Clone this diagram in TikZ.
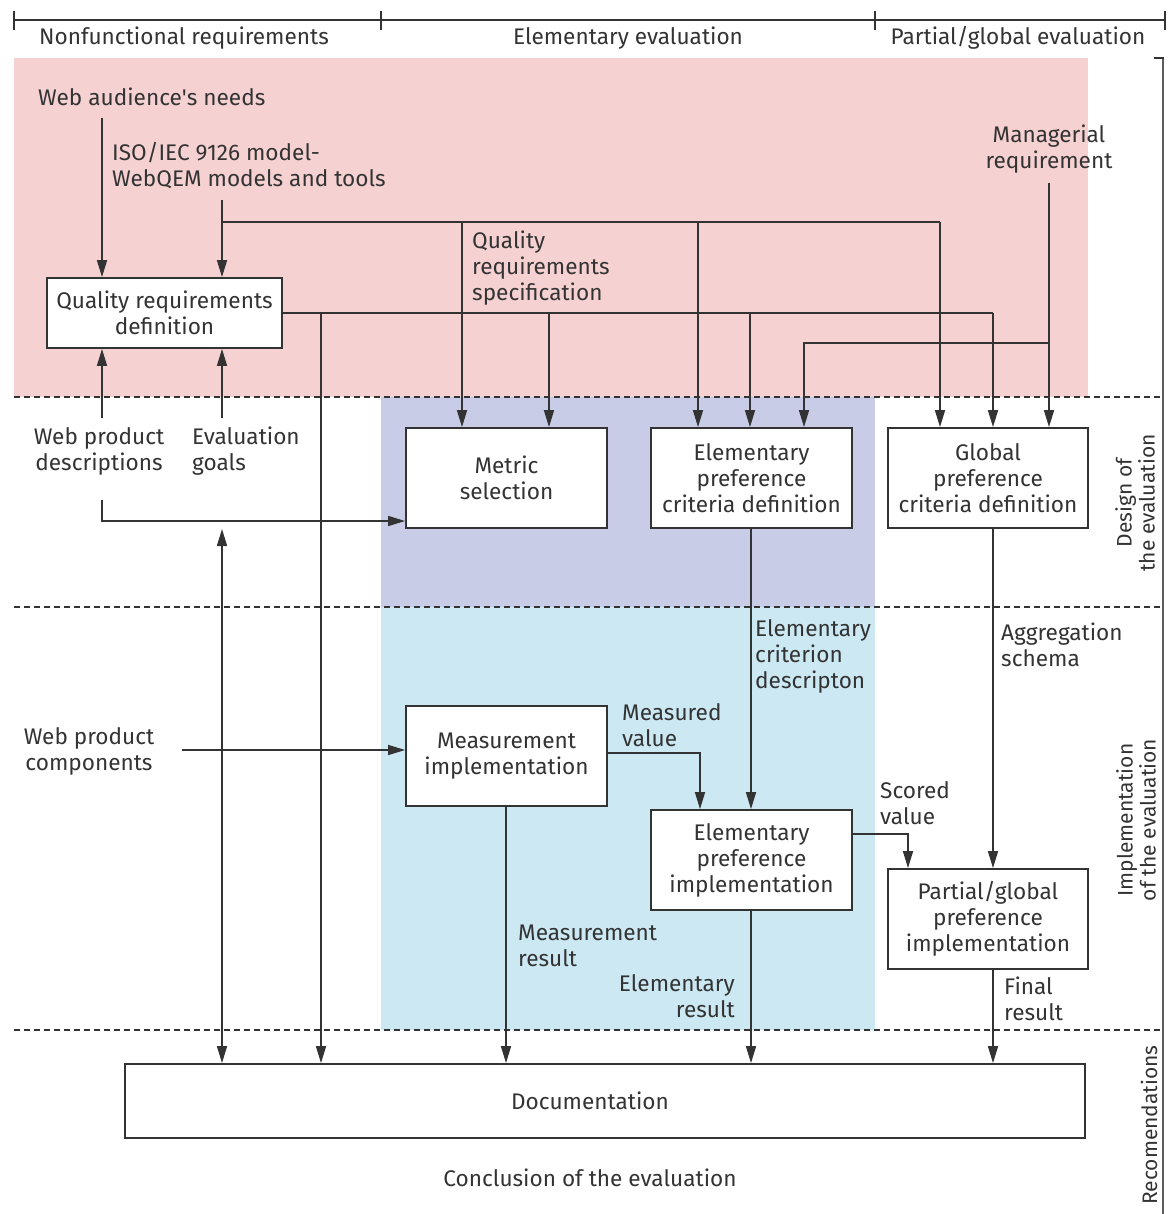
\documentclass[tikz,border=0pt]{standalone}
\usepackage{fontspec}
\setmainfont{Fira Sans}
\usetikzlibrary{arrows.meta}
\definecolor{pinkbg}{HTML}{F5D1D1}
\definecolor{lavbg}{HTML}{C8CCE6}
\definecolor{bluebg}{HTML}{CBE8F3}
\definecolor{ink}{HTML}{333333}
\tikzset{
  lbl/.style={inner sep=0pt, text=ink, font=\fontsize{22.6}{26}\selectfont},
  boxn/.style={draw=ink, line width=1.8pt, fill=white, inner sep=0pt, align=center, text=ink, font=\fontsize{22.6}{26}\selectfont},
  conn/.style={draw=ink, line width=1.6pt},
  arr/.style={conn, -{Triangle[length=17pt,width=10pt]}},
  darr/.style={conn, {Triangle[length=17pt,width=10pt]}-{Triangle[length=17pt,width=10pt]}},
  sep/.style={draw=ink, line width=1.2pt, dash pattern=on 6pt off 4pt},
  side/.style={inner sep=0pt, text=ink, rotate=90, align=center, font=\fontsize{21}{23}\selectfont},
}
\begin{document}
\begin{tikzpicture}[x=1pt,y=-1pt]
\useasboundingbox (0,0) rectangle (1169,1214);
% backgrounds
\fill[pinkbg] (14,58) rectangle (1088,397);
\fill[lavbg] (381,397) rectangle (875,607);
\fill[bluebg] (381,607) rectangle (875,1030);
% header
\draw[conn] (14,20) -- (1165,20);
\foreach \x in {14,381,875,1165} \draw[conn] (\x,11) -- (\x,30);
\node[lbl] (h1) at (184,38) {Nonfunctional requirements};
\node[lbl] (h2) at (628,38) {Elementary evaluation};
\node[lbl] (h3) at (1018,38) {Partial/global evaluation};
% right bar
\draw[draw=ink!80, line width=2.4pt] (1163,58) -- (1163,1214);
\draw[conn] (1154,58) -- (1164,58);
% separators
\draw[sep] (14,397) -- (1160,397);
\draw[sep] (14,607) -- (1160,607);
\draw[sep] (14,1030) -- (1160,1030);
% boxes
\node[boxn, minimum width=235pt, minimum height=70pt] (qrd) at (164.5,313) {Quality requirements\\definition};
\node[boxn, minimum width=201pt, minimum height=100pt] (ms) at (506.5,478) {Metric\\selection};
\node[boxn, minimum width=201pt, minimum height=100pt] (epcd) at (751.5,478) {Elementary\\preference\\criteria definition};
\node[boxn, minimum width=200pt, minimum height=100pt] (gpcd) at (988,478) {Global\\preference\\criteria definition};
\node[boxn, minimum width=201pt, minimum height=100pt] (mi) at (506.5,756) {Measurement\\implementation};
\node[boxn, minimum width=201pt, minimum height=100pt] (epi) at (751.5,860) {Elementary\\preference\\implementation};
\node[boxn, minimum width=200pt, minimum height=100pt] (pgpi) at (988,919) {Partial/global\\preference\\implementation};
\node[boxn, minimum width=960pt, minimum height=74pt] (doc) at (605,1101) {};
\node[lbl] (doct) at (590,1101) {Documentation};
% labels
\node[lbl, anchor=west] (wan) at (38,97) {Web audience\textquotesingle s needs};
\node[lbl, anchor=west, align=left] (iso) at (112,166) {ISO/IEC 9126 model-\\WebQEM models and tools};
\node[lbl, anchor=west, align=left] (qrs) at (472,268) {Quality\\requirements\\specification};
\node[lbl, align=center] (mgr) at (1049,149) {Managerial\\requirement};
\node[lbl, align=center] (wpd) at (99,451) {Web product\\descriptions};
\node[lbl, anchor=west, align=left] (eg) at (192,451) {Evaluation\\goals};
\node[lbl, align=center] (wpc) at (89,751) {Web product\\components};
\node[lbl, anchor=west, align=left] (mv) at (622,725) {Measured\\value};
\node[lbl, anchor=west, align=left] (ecd) at (755,656) {Elementary\\criterion\\descripton};
\node[lbl, anchor=west, align=left] (agg) at (1001,645) {Aggregation\\schema};
\node[lbl, anchor=west, align=left] (sv) at (880,803) {Scored\\value};
\node[lbl, anchor=west, align=left] (mr) at (518,946) {Measurement\\result};
\node[lbl, anchor=east, align=right] (er) at (735,996) {Elementary\\result};
\node[lbl, anchor=west, align=left] (fr) at (1004,999) {Final\\result};
\node[lbl] (concl) at (590,1178) {Conclusion of the evaluation};
\node[side] (s1) at (1135,503) {Design of\\the evaluation};
\node[side] (s2) at (1136,820) {Implementation\\of the evaluation};
\node[side] (s3) at (1149,1125) {Recomendations};
% connectors: top
\draw[arr] (102,118) -- (qrd.north -| 102,0);
\draw[arr] (222,200) -- (qrd.north -| 222,0);
\draw[conn] (222,222) -- (940,222);
\draw[arr] (940,222) -- (gpcd.north -| 940,0);
\draw[arr] (462,222) -- (ms.north -| 462,0);
\draw[arr] (698,222) -- (epcd.north -| 698,0);
\draw[conn] (qrd.east) -- (993,313);
\draw[arr] (993,313) -- (gpcd.north -| 993,0);
\draw[arr] (321,313) -- (doc.north -| 321,0);
\draw[arr] (549,313) -- (ms.north -| 549,0);
\draw[arr] (750,313) -- (epcd.north -| 750,0);
\draw[arr] (1049,183) -- (gpcd.north -| 1049,0);
\draw[arr] (1049,343) -- (804,343) -- (epcd.north -| 804,0);
% inputs to qrd
\draw[arr] (102,418) -- (qrd.south -| 102,0);
\draw[arr] (222,418) -- (qrd.south -| 222,0);
\draw[arr] (102,500) -- (102,521) -- (ms.west |- 0,521);
\draw[darr] (222,529) -- (doc.north -| 222,0);
% middle
\draw[arr] (182,750) -- (mi.west |- 0,750);
\draw[arr] (mi.east |- 0,753) -- (700,753) -- (epi.north -| 700,0);
\draw[arr] (epcd.south -| 751,0) -- (epi.north -| 751,0);
\draw[arr] (mi.south -| 506,0) -- (doc.north -| 506,0);
\draw[arr] (epi.south -| 751,0) -- (doc.north -| 751,0);
\draw[arr] (epi.east |- 0,834) -- (908,834) -- (pgpi.north -| 908,0);
\draw[arr] (gpcd.south -| 993,0) -- (pgpi.north -| 993,0);
\draw[arr] (pgpi.south -| 993,0) -- (doc.north -| 993,0);
\end{tikzpicture}
\end{document}
